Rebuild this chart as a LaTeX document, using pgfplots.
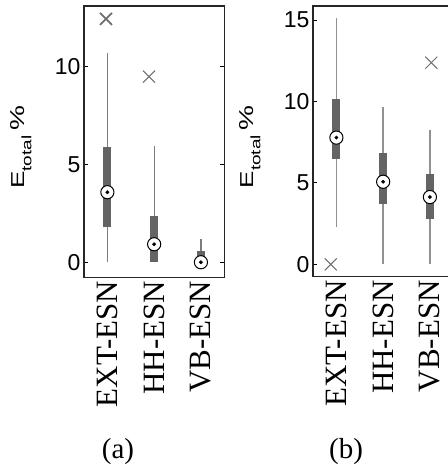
\documentclass[border=0pt]{standalone}
\usepackage{fontspec}
\setmainfont{Liberation Serif}
\setsansfont{Liberation Sans}
\usepackage{graphicx}
\usepackage{pgfplots}
\pgfplotsset{compat=1.18}
\definecolor{whisk}{RGB}{125,125,125}
\definecolor{boxc}{RGB}{100,100,100}
\definecolor{outc}{RGB}{110,110,110}
\newcommand{\etot}{\scalebox{1}[0.72]{\fontsize{26}{26}\sffamily E\raisebox{-10pt}{\fontsize{19}{19}\selectfont total}\hspace{5pt}{\fontsize{28}{28}\selectfont\%}}}
\pgfplotsset{
  mybox/.style={
    scale only axis, width=140.3pt,
    xmin=0.5, xmax=3.5,
    xtick={1,2,3}, xticklabels={EXT-ESN,HH-ESN,VB-ESN},
    xtick style={draw=none},
    xticklabel style={font=\fontsize{31}{31}\selectfont\rmfamily, rotate=90, anchor=east},
    yticklabel style={font=\fontsize{23}{23}\selectfont\sffamily},
    /pgf/number format/assume math mode=true,
    ytick pos=both, tick align=inside, major tick length=4pt,
    ytick style={black, line width=0.8pt},
    axis line style={black!85, line width=1.1pt},
    ylabel={\etot},
    ylabel style={at={(axis description cs:-0.45,0.48)}, anchor=center},
    clip=false,
  },
  wh/.style={whisk, line width=1.2pt, no marks},
  bx/.style={boxc, line width=8pt, line cap=butt, no marks},
  medo/.style={only marks, mark=*, mark size=6.6pt, mark options={fill=white, draw=black, line width=1pt}},
  medi/.style={only marks, mark=*, mark size=1.7pt, mark options={fill=black, draw=black}},
  outl/.style={only marks, mark=x, mark size=8.5pt, mark options={outc, line width=1pt}},
}
\begin{document}
\begin{tikzpicture}[x=1pt,y=1pt]
\path[use as bounding box] (0,0) rectangle (447,468);
% Panel (a)
\begin{axis}[mybox, at={(84pt,190.7pt)}, anchor=south west, height=271.3pt,
  ymin=-0.77, ymax=13.1, ytick={0,5,10}]
\addplot[wh] coordinates {(1,0) (1,10.69)};
\addplot[wh] coordinates {(2,0) (2,5.96)};
\addplot[wh] coordinates {(3,0) (3,1.19)};
\addplot[bx] coordinates {(1,1.79) (1,5.91)};
\addplot[bx] coordinates {(2,0) (2,2.37)};
\addplot[bx] coordinates {(3,0) (3,0.58)};
\addplot[medo] coordinates {(1,3.58) (2,0.92) (3,0)};
\addplot[medi] coordinates {(1,3.58) (2,0.92) (3,0)};
\addplot[outl, mark options={outc, line width=1.8pt}] coordinates {(0.97,12.44)};
\addplot[outl] coordinates {(1.89,9.49)};
\end{axis}
% Panel (b)
\begin{axis}[mybox, at={(313pt,191.3pt)}, anchor=south west, height=270.7pt,
  ymin=-0.76, ymax=15.86, ytick={0,5,10,15}]
\addplot[wh, line width=1.5pt, whisk!85] coordinates {(1,2.31) (1,15.14)};
\addplot[wh, line width=1.5pt, whisk!85] coordinates {(2,0) (2,9.68)};
\addplot[wh, line width=1.5pt, whisk!85] coordinates {(3,0) (3,8.25)};
\addplot[bx] coordinates {(1,6.45) (1,10.13)};
\addplot[bx] coordinates {(2,3.68) (2,6.86)};
\addplot[bx] coordinates {(3,2.76) (3,5.52)};
\addplot[medo] coordinates {(1,7.78) (2,5.07) (3,4.13)};
\addplot[medi] coordinates {(1,7.78) (2,5.07) (3,4.13)};
\addplot[outl] coordinates {(0.88,0)};
\addplot[outl] coordinates {(3.03,12.38)};
\end{axis}
\node[font=\fontsize{29}{29}\selectfont\rmfamily] at (118,16) {(a)};
\node[font=\fontsize{29}{29}\selectfont\rmfamily] at (346,16) {(b)};
\end{tikzpicture}
\end{document}
